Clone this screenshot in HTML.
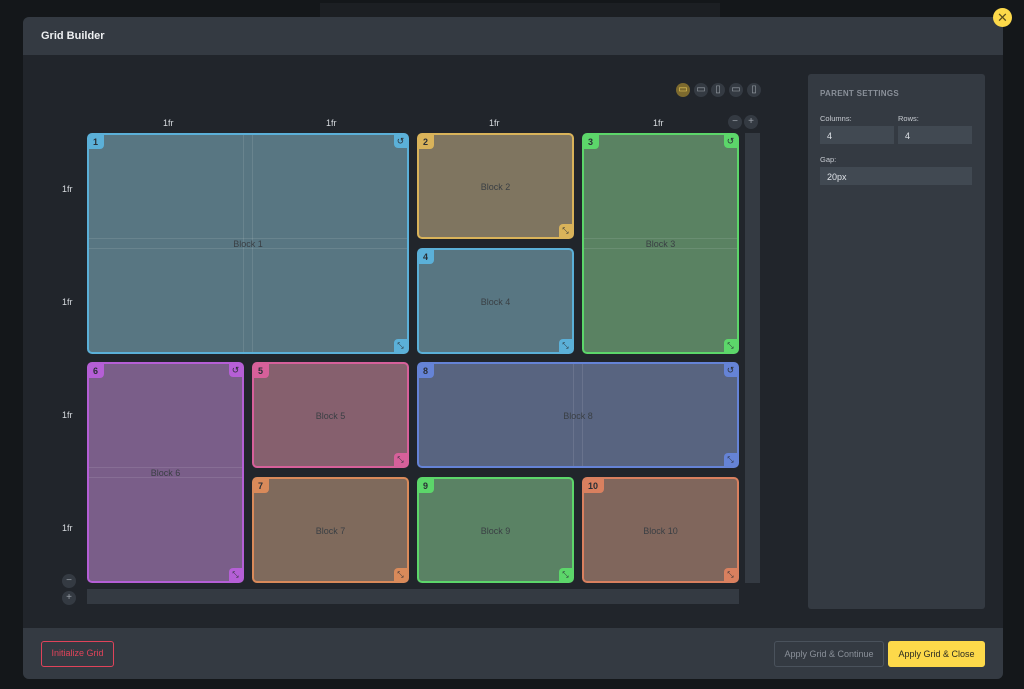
<!DOCTYPE html>
<html><head><meta charset="utf-8"><style>
*{box-sizing:border-box;margin:0;padding:0}
body{width:1024px;height:689px;background:#14171a;position:relative;overflow:hidden;font-family:"Liberation Sans",sans-serif}
.a{position:absolute}
.blk{position:absolute;border:2px solid;border-radius:5px}
.num{position:absolute;left:0;top:0;width:15px;height:14px;font-size:9px;font-weight:bold;color:#2a2f36;padding:2px 0 0 4px;border-radius:0 0 4px 0}
.rs{position:absolute;right:0;bottom:0;width:13px;height:13px;border-radius:4px 0 0 0;font-size:8px;color:#2a2f36;text-align:center;line-height:13px}
.rt{position:absolute;right:0;top:0;width:13px;height:13px;border-radius:0 0 0 4px;font-size:9px;color:#2a2f36;text-align:center;line-height:13px}
.lbl{position:absolute;left:0;right:0;text-align:center;font-size:9px;color:#3a3f44}
.fr{position:absolute;font-size:9px;color:#d8dce0}
.circ{position:absolute;width:14px;height:14px;border-radius:50%;background:#343a42;color:#9aa0a8;font-size:10px;text-align:center;line-height:14px}
.ln{position:absolute;background:rgba(255,255,255,0.1)}
.inp{position:absolute;background:#414952;color:#dfe3e8;font-size:9px;padding:5px 0 0 7px}
.sl{position:absolute;font-size:7.5px;color:#c8ccd2}
</style></head><body>
<div class="a" style="left:320px;top:3px;width:400px;height:14px;background:#1c1f23"></div>
<div class="a" style="left:23px;top:17px;width:980px;height:662px;background:#21252b;border-radius:6px;overflow:hidden">
 <div class="a" style="left:0;top:0;width:980px;height:38px;background:#343a42"></div>
 <div class="a" style="left:18px;top:13px;font-size:11px;font-weight:bold;color:#eef0f2">Grid Builder</div>
 <div class="a" style="left:0;top:611px;width:980px;height:51px;background:#343a42"></div>
</div>
<div class="a" style="left:993px;top:8px;width:19px;height:19px;border-radius:50%;background:#fdd94a;color:#5a4d1e;font-size:13px;text-align:center;line-height:19px">✕</div>

<div class="circ" style="left:676px;top:83px;background:#7d6a2e;color:#e8c95a">▭</div>
<div class="circ" style="left:694px;top:83px">▭</div>
<div class="circ" style="left:711px;top:83px">▯</div>
<div class="circ" style="left:729px;top:83px">▭</div>
<div class="circ" style="left:747px;top:83px">▯</div>

<div class="fr" style="left:163px;top:118px">1fr</div>
<div class="fr" style="left:326px;top:118px">1fr</div>
<div class="fr" style="left:489px;top:118px">1fr</div>
<div class="fr" style="left:653px;top:118px">1fr</div>
<div class="fr" style="left:62px;top:184px">1fr</div>
<div class="fr" style="left:62px;top:297px">1fr</div>
<div class="fr" style="left:62px;top:410px">1fr</div>
<div class="fr" style="left:62px;top:523px">1fr</div>
<div class="circ" style="left:728px;top:115px">−</div>
<div class="circ" style="left:744px;top:115px">+</div>
<div class="circ" style="left:62px;top:574px">−</div>
<div class="circ" style="left:62px;top:591px">+</div>
<div class="a" style="left:745px;top:133px;width:15px;height:450px;background:#343a42"></div>
<div class="a" style="left:87px;top:589px;width:652px;height:15px;background:#343a42"></div>

<div class="blk" style="left:87px;top:133px;width:322px;height:221px;border-color:#5bb0d8;background:#587682">
 <div class="ln" style="left:154px;top:0;width:1px;height:217px"></div><div class="ln" style="left:163px;top:0;width:1px;height:217px"></div>
 <div class="ln" style="left:0;top:103px;width:318px;height:1px"></div><div class="ln" style="left:0;top:113px;width:318px;height:1px"></div>
 <div class="num" style="background:#5bb0d8">1</div><div class="rt" style="background:#5bb0d8">↺</div><div class="rs" style="background:#5bb0d8">⤡</div>
 <div class="lbl" style="top:104px">Block 1</div></div>
<div class="blk" style="left:417px;top:133px;width:157px;height:106px;border-color:#d9b35a;background:#7f7560">
 <div class="num" style="background:#d9b35a">2</div><div class="rs" style="background:#d9b35a">⤡</div><div class="lbl" style="top:47px">Block 2</div></div>
<div class="blk" style="left:582px;top:133px;width:157px;height:221px;border-color:#5cd66a;background:#5a8262">
 <div class="ln" style="left:0;top:103px;width:153px;height:1px"></div><div class="ln" style="left:0;top:113px;width:153px;height:1px"></div>
 <div class="num" style="background:#5cd66a">3</div><div class="rt" style="background:#5cd66a">↺</div><div class="rs" style="background:#5cd66a">⤡</div><div class="lbl" style="top:104px">Block 3</div></div>
<div class="blk" style="left:417px;top:248px;width:157px;height:106px;border-color:#5bb0d8;background:#587682">
 <div class="num" style="background:#5bb0d8">4</div><div class="rs" style="background:#5bb0d8">⤡</div><div class="lbl" style="top:47px">Block 4</div></div>
<div class="blk" style="left:87px;top:362px;width:157px;height:221px;border-color:#b55fd6;background:#7a5e89">
 <div class="ln" style="left:0;top:103px;width:153px;height:1px"></div><div class="ln" style="left:0;top:113px;width:153px;height:1px"></div>
 <div class="num" style="background:#b55fd6">6</div><div class="rt" style="background:#b55fd6">↺</div><div class="rs" style="background:#b55fd6">⤡</div><div class="lbl" style="top:104px">Block 6</div></div>
<div class="blk" style="left:252px;top:362px;width:157px;height:106px;border-color:#d6609a;background:#86606e">
 <div class="num" style="background:#d6609a">5</div><div class="rs" style="background:#d6609a">⤡</div><div class="lbl" style="top:47px">Block 5</div></div>
<div class="blk" style="left:417px;top:362px;width:322px;height:106px;border-color:#6583d6;background:#586480">
 <div class="ln" style="left:154px;top:0;width:1px;height:102px"></div><div class="ln" style="left:163px;top:0;width:1px;height:102px"></div>
 <div class="num" style="background:#6583d6">8</div><div class="rt" style="background:#6583d6">↺</div><div class="rs" style="background:#6583d6">⤡</div><div class="lbl" style="top:47px">Block 8</div></div>
<div class="blk" style="left:252px;top:477px;width:157px;height:106px;border-color:#d98a5a;background:#7f6a5c">
 <div class="num" style="background:#d98a5a">7</div><div class="rs" style="background:#d98a5a">⤡</div><div class="lbl" style="top:47px">Block 7</div></div>
<div class="blk" style="left:417px;top:477px;width:157px;height:106px;border-color:#5cd66a;background:#5a8264">
 <div class="num" style="background:#5cd66a">9</div><div class="rs" style="background:#5cd66a">⤡</div><div class="lbl" style="top:47px">Block 9</div></div>
<div class="blk" style="left:582px;top:477px;width:157px;height:106px;border-color:#d9805f;background:#80665c">
 <div class="num" style="background:#d9805f;width:20px">10</div><div class="rs" style="background:#d9805f">⤡</div><div class="lbl" style="top:47px">Block 10</div></div>

<div class="a" style="left:808px;top:74px;width:177px;height:535px;background:#343a42;border-radius:3px"></div>
<div class="a" style="left:820px;top:89px;font-size:8px;font-weight:bold;color:#8a9099;letter-spacing:0.3px">PARENT SETTINGS</div>
<div class="sl" style="left:820px;top:114px">Columns:</div>
<div class="sl" style="left:898px;top:114px">Rows:</div>
<div class="inp" style="left:820px;top:126px;width:74px;height:18px">4</div>
<div class="inp" style="left:898px;top:126px;width:74px;height:18px">4</div>
<div class="sl" style="left:820px;top:155px">Gap:</div>
<div class="inp" style="left:820px;top:167px;width:152px;height:18px">20px</div>

<div class="a" style="left:41px;top:641px;width:73px;height:26px;border:1.5px solid #e0435a;border-radius:3px;color:#e0435a;font-size:9px;text-align:center;line-height:23px">Initialize Grid</div>
<div class="a" style="left:774px;top:641px;width:110px;height:26px;border:1px solid #4a525c;border-radius:3px;color:#8a9099;font-size:9px;text-align:center;line-height:24px">Apply Grid &amp; Continue</div>
<div class="a" style="left:888px;top:641px;width:97px;height:26px;background:#fdd94a;border-radius:3px;color:#2a2a22;font-size:9px;text-align:center;line-height:26px">Apply Grid &amp; Close</div>
</body></html>
